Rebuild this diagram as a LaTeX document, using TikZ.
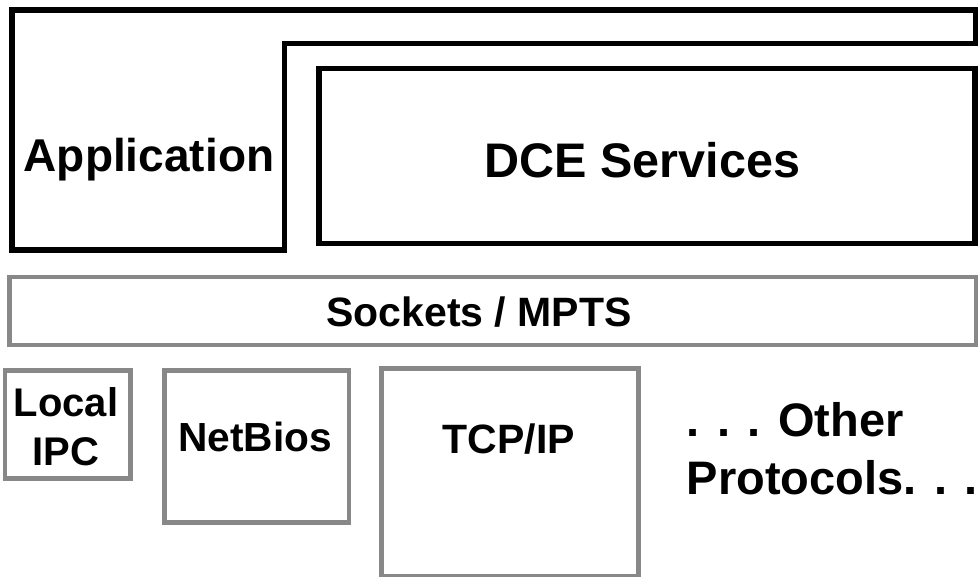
\documentclass[tikz,border=0pt]{standalone}
\usepackage{fontspec}
\setmainfont{Liberation Sans}
\definecolor{boxgray}{RGB}{136,136,136}
\begin{document}
\begin{tikzpicture}[x=0.75pt,y=-0.75pt,
  blackbox/.style={draw=black,line width=4.4pt},
  graybox/.style={draw=boxgray,line width=3.4pt},
  lbl/.style={inner sep=0pt,anchor=base,font=\bfseries\fontsize{#1}{#1}\selectfont}]
\useasboundingbox (0,0) rectangle (978,577);
\draw[blackbox] (11.7,9.7) coordinate (apptl) -- (975.5,9.7) -- (975.5,43.5) -- (284.5,43.5) -- (284.5,250) -- (11.7,250) -- cycle;
\draw[blackbox] (319,68.5) coordinate (dcetl) rectangle (975.3,243.5) coordinate (dcebr);
\draw[graybox] (9.7,277) coordinate (socktl) rectangle (976,345) coordinate (sockbr);
\draw[graybox] (5,370.3) coordinate (ipctl) rectangle (130.3,478.3) coordinate (ipcbr);
\draw[graybox] (164.3,370.3) coordinate (nbtl) rectangle (349,522.3) coordinate (nbbr);
\draw[graybox] (381.7,368.3) coordinate (tcptl) rectangle (638.3,576) coordinate (tcpbr);
\node[lbl=34.5] (app) at (149,171.7) {Application};
\node[lbl=36.4] (dce) at (642.5,177.3) {DCE Services};
\node[lbl=30.75] (sock) at (479,326.7) {Sockets / MPTS};
\node[lbl=30] (ipc1) at (66,416.7) {Local};
\node[lbl=30] (ipc2) at (66,465) {IPC};
\node[lbl=30.5] (nb) at (255,451.7) {NetBios};
\node[lbl=30.75] (tcp) at (509,453.3) {TCP/IP};
\node[lbl=35.25,anchor=base west] (oth1) at (686.7,436) {. . . Other};
\node[lbl=35.25,anchor=base west] (oth2) at (686.7,494) {Protocols. . .};
\end{tikzpicture}
\end{document}
